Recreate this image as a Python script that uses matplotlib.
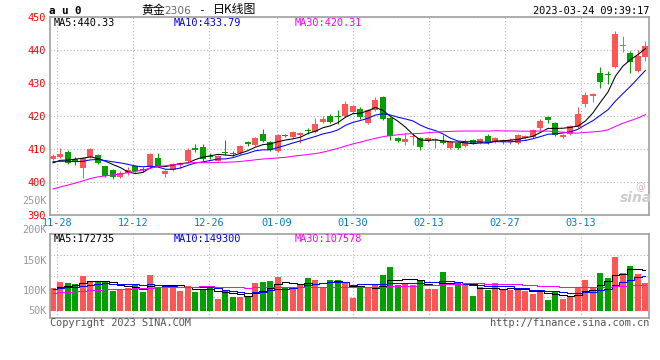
import numpy as np
import pandas as pd
import matplotlib
matplotlib.use('Agg')
import matplotlib.pyplot as plt

plt.rcParams['font.family'] = ['DejaVu Sans Mono']

# au0 daily, 11-25 .. 03-24 (80 sessions)
opens = [407.0, 407.5, 409.2, 406.9, 404.3, 407.5, 408.2, 404.8, 403.6, 401.6,
         402.6, 404.8, 404.0, 404.5, 407.4, 402.3, 403.6, 405.3, 406.5, 410.2,
         410.7, 407.7, 406.5, 409.0, 408.9, 408.7, 412.2, 411.2, 414.5, 412.0,
         409.5, 414.3, 413.7, 414.2, 415.8, 415.3, 418.3, 420.0, 420.1, 420.0,
         421.1, 422.1, 418.0, 421.8, 425.8, 419.3, 413.4, 412.0, 413.5, 413.2,
         412.4, 412.7, 412.4, 410.4, 411.7, 411.0, 412.7, 411.7, 413.9, 412.0,
         412.0, 412.2, 411.7, 413.2, 413.7, 416.5, 419.7, 417.9, 413.7, 414.5,
         416.8, 423.7, 426.2, 433.1, 432.6, 434.9, 441.3, 439.2, 433.7, 437.8]
closes = [408.0, 408.4, 405.8, 406.5, 407.4, 410.0, 405.8, 401.8, 401.4, 402.8,
          403.5, 403.3, 403.6, 408.4, 404.8, 403.3, 405.5, 405.8, 409.7, 409.7,
          407.0, 407.5, 408.0, 408.7, 408.5, 410.9, 411.4, 413.4, 412.4, 409.7,
          414.2, 413.9, 415.2, 414.9, 415.4, 417.6, 419.1, 418.1, 419.8, 423.6,
          423.0, 419.8, 421.8, 424.8, 419.1, 413.9, 412.4, 412.9, 413.7, 410.7,
          413.4, 413.0, 411.7, 412.0, 410.4, 412.2, 411.7, 413.0, 411.7, 413.4,
          412.7, 412.7, 414.2, 413.9, 415.8, 418.5, 418.8, 414.2, 414.2, 417.0,
          420.6, 426.4, 426.6, 430.4, 432.3, 444.8, 441.5, 436.3, 438.2, 441.3]
highs = [408.6, 410.2, 409.6, 407.7, 407.6, 410.3, 408.6, 405.0, 404.0, 403.2,
         404.4, 405.2, 404.6, 408.7, 408.7, 403.6, 405.8, 406.2, 410.2, 411.5,
         411.5, 408.9, 408.3, 412.7, 409.5, 411.1, 412.5, 413.7, 416.0, 412.3,
         414.5, 414.6, 415.5, 415.2, 416.5, 419.5, 420.0, 420.5, 421.8, 424.6,
         423.3, 422.6, 422.1, 425.8, 426.1, 419.6, 413.7, 414.7, 414.7, 413.5,
         413.7, 413.3, 414.2, 412.3, 412.0, 413.0, 413.0, 413.3, 414.5, 413.7,
         413.0, 413.4, 414.5, 414.2, 416.1, 419.1, 420.0, 418.2, 414.6, 417.3,
         422.8, 427.4, 427.0, 434.7, 433.6, 445.8, 444.2, 439.7, 440.0, 442.7]
lows = [406.7, 407.2, 405.4, 405.2, 401.3, 407.3, 405.4, 401.5, 401.0, 401.3,
        402.0, 403.0, 403.0, 404.3, 404.5, 401.6, 403.3, 404.2, 406.2, 409.2,
        406.5, 406.9, 406.3, 408.2, 408.0, 408.5, 411.0, 410.9, 412.2, 409.4,
        409.0, 413.5, 413.4, 411.7, 414.5, 415.0, 418.0, 417.8, 417.7, 419.8,
        420.8, 419.2, 417.6, 421.5, 418.8, 412.7, 412.0, 411.2, 411.2, 409.7,
        412.0, 410.2, 411.4, 410.1, 410.1, 410.5, 411.4, 411.4, 411.4, 411.7,
        411.6, 411.6, 411.4, 412.9, 413.4, 415.5, 418.0, 413.9, 413.2, 414.2,
        416.5, 422.8, 424.3, 428.4, 429.6, 434.6, 439.5, 433.1, 433.4, 436.7]
# volume in thousands
volumes = [96, 124, 118, 115, 150, 128, 122, 128, 86, 94,
           99, 111, 81, 153, 104, 107, 99, 85, 107, 81,
           94, 98, 51, 84, 60, 61, 58, 119, 124, 128,
           145, 101, 99, 111, 141, 132, 104, 132, 132, 118,
           57, 104, 104, 112, 153, 189, 112, 119, 112, 132,
           94, 94, 166, 104, 119, 112, 64, 101, 89, 119,
           89, 89, 92, 85, 74, 80, 47, 80, 51, 61,
           99, 132, 99, 162, 141, 231, 162, 193, 158, 119]
# sessions before 11-25, only needed to start the moving averages
prev_close = [390, 389, 388, 388, 388.5, 391, 392, 394, 393, 392,
              391, 392, 391, 390, 396, 398, 399, 400, 405, 408,
              407.0, 406.0, 407.5, 406.5, 405.5, 404.5, 405.5, 405.0, 406.0]
prev_vol = [60, 62, 58, 64, 66, 63, 68, 65, 70, 67, 66, 72, 69, 74, 78, 72, 75, 80, 76, 83,
            96, 93, 99, 92, 97, 95, 90, 98, 95]

tick_idx = np.array([2, 12, 22, 31, 41, 51, 61, 71])
tick_lbl = ['11-28', '12-12', '12-26', '01-09', '01-30', '02-13', '02-27', '03-13']

RED = '#ff5555'
GREEN = '#00a000'
GRID = '#b4b4b4'
SPINE = '#a0a0a0'

n = len(closes)
x = np.arange(1, n + 1)
o = np.array(opens)
c = np.array(closes)
up = c >= o
cols = np.where(up, RED, GREEN)

cs = pd.Series(prev_close + closes)
ma5 = cs.rolling(5).mean().values[-n:]
ma10 = cs.rolling(10).mean().values[-n:]
ma30 = cs.rolling(30).mean().values[-n:]
vs = pd.Series(prev_vol + volumes) * 1000
vma5 = vs.rolling(5).mean().values[-n:]
vma10 = vs.rolling(10).mean().values[-n:]
vma30 = vs.rolling(30).mean().values[-n:]

W, H = 660, 360
def px(xp, yp):
    return xp / W, 1 - yp / H

fig = plt.figure(figsize=(6.6, 3.6), dpi=100)
ax = fig.add_axes([50 / W, 1 - 215 / H, 599 / W, 198 / H])
axv = fig.add_axes([50 / W, 1 - 318 / H, 599 / W, 84 / H])

# sina's grid drifts a little against the candles
grid_x = tick_idx - 0.47 + 0.0125 * (tick_idx - 2)

for a in (ax, axv):
    a.set_xlim(0.6, 80.47)
    for s in a.spines.values():
        s.set_color(SPINE)
        s.set_linewidth(1.2)
    a.set_xticks(grid_x)
    a.grid(True, color=GRID, ls=(0, (1, 2)), lw=0.8)
    a.set_axisbelow(True)
    a.tick_params(length=0)

# price panel
ax.vlines(x, lows, highs, colors=cols, lw=0.75)
ax.bar(x, np.maximum(np.abs(c - o), 0.3), bottom=np.minimum(o, c), width=0.8, color=cols, lw=0)
ax.plot(x, ma5, color='black', lw=0.75)
ax.plot(x, ma10, color='#0000ff', lw=0.75)
ax.plot(x, ma30, color='#ff00ff', lw=0.75)
ax.set_ylim(390, 450)
ax.set_yticks(range(390, 451, 10))
ax.set_yticklabels([str(v) for v in range(390, 451, 10)])
ax.tick_params(axis='y', labelcolor='#ff0000', labelsize=7.4, pad=3)
ax.set_xticklabels(tick_lbl)
ax.tick_params(axis='x', labelcolor='#0080c8', labelsize=7.4, pad=2)

# volume panel
vol = np.array(volumes) * 1000
axv.bar(x, vol, width=0.8, color=cols, lw=0)
axv.plot(x, vma5, color='black', lw=0.75, drawstyle='steps-mid')
axv.plot(x, vma10, color='#0000ff', lw=0.75, drawstyle='steps-mid')
axv.plot(x, vma30, color='#ff00ff', lw=0.75, drawstyle='steps-mid')
axv.set_ylim(-29800, 328000)
axv.set_yticks([59650, 149100, 238550])
axv.set_yticklabels([])
axv.set_xticklabels([])

fs = 7.4
# volume scale labels, placed where sina puts them
for lbl, yp in [('250K', 200.5), ('200K', 230.5), ('150K', 261), ('100K', 290.5), ('50K', 310.5)]:
    fig.text(*px(47, yp), lbl, color='#999999', fontsize=fs, ha='right', va='center')

fig.text(*px(49, 11.5), 'a u 0', fontsize=7.8, fontweight='bold', ha='left', va='center')
cjk = ['Noto Sans CJK SC', 'DejaVu Sans']
fig.text(*px(141, 10), '黄金', family=cjk, fontsize=8.6, ha='left', va='center')
fig.text(*px(164.5, 10.5), '2306', family='DejaVu Sans', color='#666666', fontsize=7.6, ha='left', va='center')
fig.text(*px(201, 10), '-', fontsize=8, ha='center', va='center')
fig.text(*px(213, 10), '日K线图', family=cjk, fontsize=8.6, ha='left', va='center')
fig.text(*px(649, 11.5), '2023-03-24 09:39:17', fontsize=fs, ha='right', va='center')

fig.text(*px(54, 23.5), 'MA5:440.33', fontsize=fs, color='black', va='center')
fig.text(*px(174, 23.5), 'MA10:433.79', fontsize=fs, color='#0000ff', va='center')
fig.text(*px(295, 23.5), 'MA30:420.31', fontsize=fs, color='#ff00ff', va='center')
fig.text(*px(54, 238.5), 'MA5:172735', fontsize=fs, color='black', va='center')
fig.text(*px(174, 238.5), 'MA10:149300', fontsize=fs, color='#0000ff', va='center')
fig.text(*px(295, 238.5), 'MA30:107578', fontsize=fs, color='#ff00ff', va='center')

fig.text(*px(50, 323), 'Copyright 2023 SINA.COM', fontsize=fs, color='#555555', va='center')
fig.text(*px(649, 323), 'http://finance.sina.com.cn', fontsize=fs, color='#555555', ha='right', va='center')

# sina watermark
fig.text(*px(636, 198), 'sina', family='DejaVu Sans', fontsize=10, fontstyle='italic',
         fontweight='bold', color='#cccccc', ha='center', va='center')
fig.text(*px(640, 187), '@', family='DejaVu Sans', fontsize=7, color='#e0b0b0', ha='center', va='center')

fig.savefig('out.png', dpi=100)
